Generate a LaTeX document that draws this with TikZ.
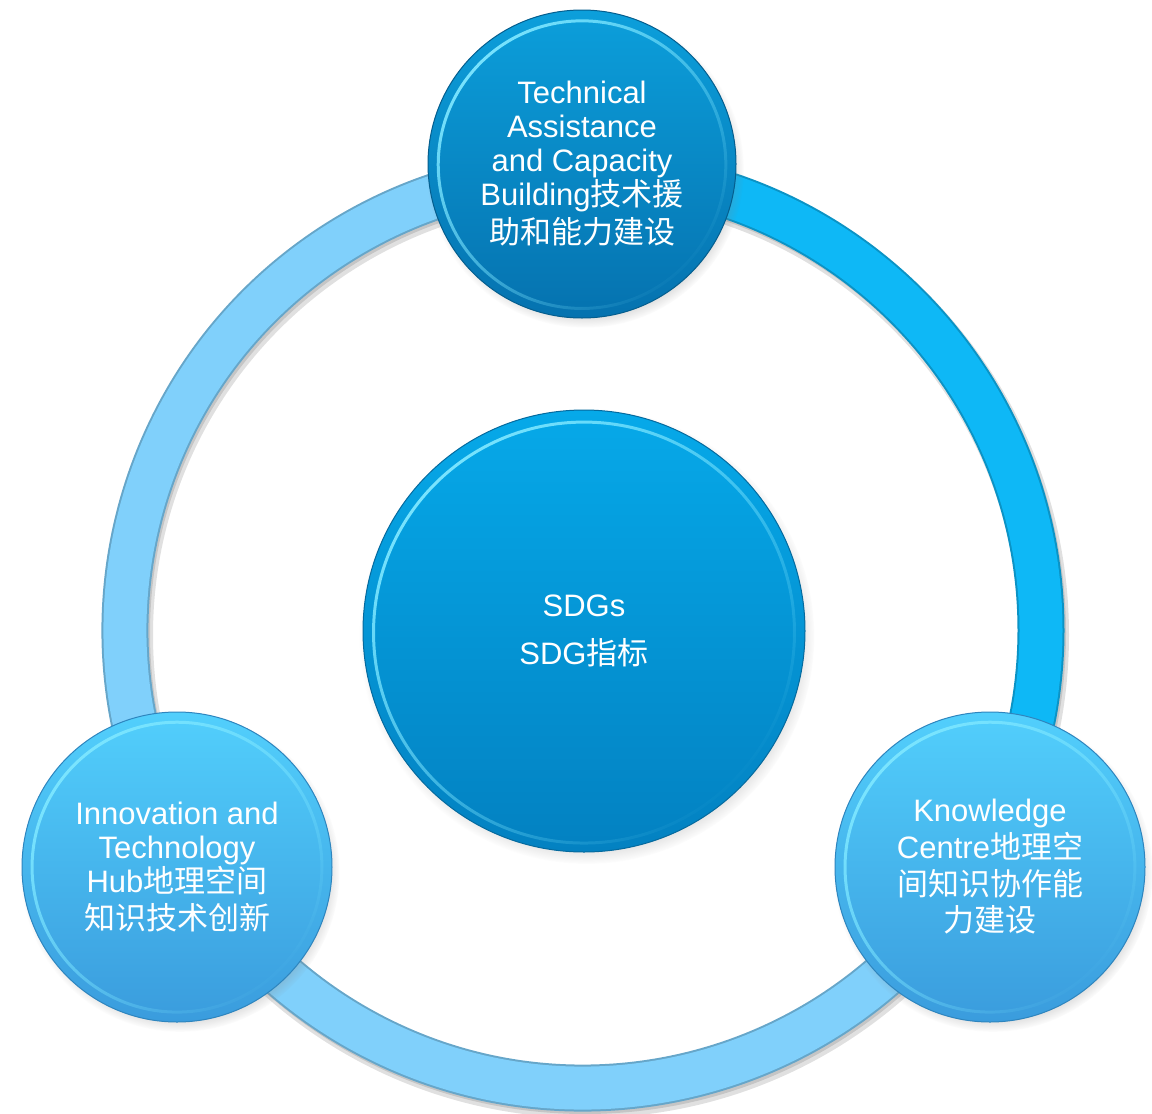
\documentclass[tikz,border=0pt]{standalone}
\usepackage{fontspec}
\setmainfont{Liberation Sans}
\newfontfamily\cjk{Noto Sans CJK SC}
\usepackage{tikz}
\usetikzlibrary{positioning,shadows,fadings}

\definecolor{ringbright}{HTML}{0EB8F6}
\definecolor{ringlight}{HTML}{80D0FB}
\definecolor{rimglow}{HTML}{7CE6FF}
\definecolor{sdgtop}{HTML}{06A9E9}
\definecolor{sdgbot}{HTML}{0381C1}
\definecolor{sdgedge}{HTML}{056A9E}
\definecolor{deeptop}{HTML}{0C9FDB}
\definecolor{deepbot}{HTML}{0572AF}
\definecolor{deepedge}{HTML}{055E8E}
\definecolor{paletop}{HTML}{52CFFC}
\definecolor{palebot}{HTML}{3A9CDD}
\definecolor{paleedge}{HTML}{2E85BE}
\newcommand\bubfont{\fontsize{31}{34}\selectfont}
\tikzfading[name=rimfade, top color=transparent!0, bottom color=transparent!100]

\begin{document}
\begin{tikzpicture}[x=1pt,y=-1pt,
    ringarc/.style={line width=2pt, double=#1, double distance=43pt, draw=#1!80!black},
    ringshadow/.style={black, opacity=.12, line width=#1},
    bubble/.style n args={4}{circle, minimum size=#1, inner sep=0pt, align=center,
      text=white, font=\bubfont, top color=#2, bottom color=#3, draw=#4, line width=1pt,
      circular drop shadow={shadow scale=1.03, shadow xshift=3pt, shadow yshift=-5pt, opacity=.5},
      path picture={\draw[rimglow, line width=3pt, path fading=rimfade, fading angle=45]
        (path picture bounding box.center) circle[radius=#1/2-10pt];}}]
    \useasboundingbox (0,0) rectangle (1152,1114);
    \coordinate (ringcentre) at (583,630);
    % ring behind the bubbles
    \draw[ringshadow=50pt] ([shift={(3,5)}]ringcentre) circle[radius=458];
    \draw[ringshadow=46pt] ([shift={(2,3)}]ringcentre) circle[radius=458];
    \draw[ringarc=ringlight] (ringcentre) ++(30:458) arc[start angle=30, end angle=150, radius=458];
    \draw[ringarc=ringlight] (ringcentre) ++(150:458) arc[start angle=150, end angle=270, radius=458];
    \draw[ringarc=ringbright] (ringcentre) ++(270:458) arc[start angle=270, end angle=390, radius=458];

    \node[bubble={442pt}{sdgtop}{sdgbot}{sdgedge}] (sdg) at (584,631)
      {SDGs\\[14pt]SDG{\cjk 指标}};
    \node[bubble={308pt}{deeptop}{deepbot}{deepedge}] (assist) at (582,164)
      {Technical\\Assistance\\and Capacity\\Building{\cjk 技术援}\\[4pt]{\cjk 助和能力建设}};
    \node[bubble={310pt}{paletop}{palebot}{paleedge}] (innov) at (177,867)
      {Innovation and\\Technology\\Hub{\cjk 地理空间}\\[3pt]{\cjk 知识技术创新}};
    \node[bubble={310pt}{paletop}{palebot}{paleedge}] (know) at (990,867)
      {Knowledge\\[3pt]Centre{\cjk 地理空}\\[3pt]{\cjk 间知识协作能}\\[2pt]{\cjk 力建设}};
\end{tikzpicture}
\end{document}
